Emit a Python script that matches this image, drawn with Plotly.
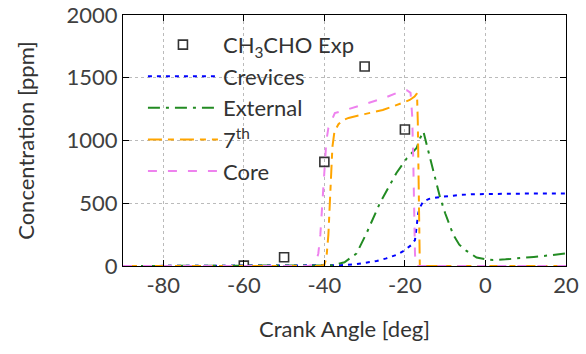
import plotly.graph_objects as go

# Experimental acetaldehyde measurements
exp_ca = [-60, -50, -40, -30, -20]
exp_ppm = [3, 70, 830, 1590, 1088]

# Crevices zone
crev_ca = [-90, -45, -40, -36, -32, -29.5, -27, -24.6, -22, -20, -18.5, -17.5, -17.1,
           -16.7, -16.2, -15.5, -14, -11.3, -8, -6.4, -3, 0, 5, 10, 20]
crev_ppm = [0, 0, 2, 6, 15, 26, 40, 61, 90, 127, 165, 207, 300,
            420, 470, 512, 535, 550, 560, 566, 572, 574, 576, 577, 577]

# External zone
ext_ca = [-90, -42, -38, -35, -32, -29.5, -26.2, -22.1, -19.5, -17.1, -16.2, -15.4,
          -14.5, -13, -11.3, -10, -8, -6.5, -4.7, -2.2, 0, 1.9, 5, 8.5, 12, 16, 20]
ext_ppm = [0, 0, 5, 30, 100, 263, 502, 741, 860, 940, 1020, 1070,
           950, 765, 550, 420, 250, 170, 120, 68, 53, 48, 53, 61, 72, 85, 101]

# 7th zone
z7_ca = [-90, -41, -40, -39.5, -39, -38.5, -38, -37.5, -36.5, -35.5, -34, -30, -25.5,
         -21, -18.8, -17.6, -17.0, -16.8, -16.6, -16.4, -16.3, 20]
z7_ppm = [0, 0, 10, 60, 250, 600, 950, 1070, 1130, 1160, 1180, 1210, 1243,
          1295, 1323, 1350, 1376, 1150, 600, 150, 0, 0]

# Core zone
core_ca = [-90, -44, -43, -42, -41.5, -41, -40.5, -40, -39.5, -39, -38, -37.4, -35,
           -30, -25, -21.3, -19.5, -18.6, -18.2, -17.9, -17.7, -17.5, -17.3, 20]
core_ppm = [0, 0, 10, 40, 100, 250, 500, 780, 1000, 1100, 1180, 1219, 1240,
            1290, 1340, 1389, 1400, 1380, 1200, 800, 400, 100, 0, 0]

# Axis ticks (plain hyphen-minus labels)
x_ticks = [-80, -60, -40, -20, 0, 20]
x_ticklabels = ["-80", "-60", "-40", "-20", "0", "20"]
y_ticks = [0, 500, 1000, 1500, 2000]
y_ticklabels = ["0", "500", "1000", "1500", "2000"]

FONT = "Lato"
TXT = "#333333"

fig = go.Figure()
fig.add_trace(go.Scatter(
    x=exp_ca, y=exp_ppm, mode="markers", name="CH<sub>3</sub>CHO Exp",
    legendgroup="a",
    marker=dict(symbol="square-open", size=9, color="#333333", line=dict(width=1.6)),
))
fig.add_trace(go.Scatter(
    x=crev_ca, y=crev_ppm, mode="lines", name="Crevices", legendgroup="b",
    line=dict(color="#0000ff", width=2, dash="4px,5px"),
))
fig.add_trace(go.Scatter(
    x=ext_ca, y=ext_ppm, mode="lines", name="External", legendgroup="c",
    line=dict(color="#228b22", width=2, dash="12px,6px,3px,6px"),
))
fig.add_trace(go.Scatter(
    x=z7_ca, y=z7_ppm, mode="lines", name="7<sup>th</sup>", legendgroup="d",
    line=dict(color="#ffa500", width=2, dash="14px,6px,6px,6px"),
))
fig.add_trace(go.Scatter(
    x=core_ca, y=core_ppm, mode="lines", name="Core", legendgroup="e",
    line=dict(color="#ee82ee", width=2, dash="9px,11px"),
))

# White key backdrop: hides the grid behind the legend but stays under the curves
fig.add_shape(
    type="rect", xref="paper", yref="paper",
    x0=0.004, x1=0.506, y0=0.335, y1=0.996,
    fillcolor="white", line=dict(width=0), layer="between",
)

axis_common = dict(
    showline=True, linecolor="black", linewidth=1, mirror="ticks",
    ticks="inside", ticklen=6, tickcolor="black",
    showgrid=True, gridcolor="#bbbbbb", griddash="dot", gridwidth=1,
    zeroline=False, automargin=False,
    tickfont=dict(family=FONT, size=22, color="#404040"),
)

fig.update_layout(
    width=586, height=354,
    margin=dict(l=123, r=20, t=15, b=88),
    paper_bgcolor="white", plot_bgcolor="white",
    font=dict(family=FONT, size=22, color=TXT),
    showlegend=True,
    legend=dict(
        x=0.045, y=0.965, xanchor="left", yanchor="top",
        bgcolor="rgba(0,0,0,0)", borderwidth=0,
        font=dict(family=FONT, size=22, color=TXT),
        traceorder="grouped", tracegroupgap=0, itemwidth=70,
    ),
    xaxis=dict(range=[-90, 20], tickvals=x_ticks, ticktext=x_ticklabels,
               title=dict(text="Crank Angle [deg]", font=dict(family=FONT, size=22, color=TXT), standoff=24),
               **axis_common),
    yaxis=dict(range=[0, 2000], tickvals=y_ticks, ticktext=y_ticklabels,
               title=dict(text="Concentration [ppm]", font=dict(family=FONT, size=22, color=TXT), standoff=25),
               **axis_common),
)

fig.write_html("out.html")
